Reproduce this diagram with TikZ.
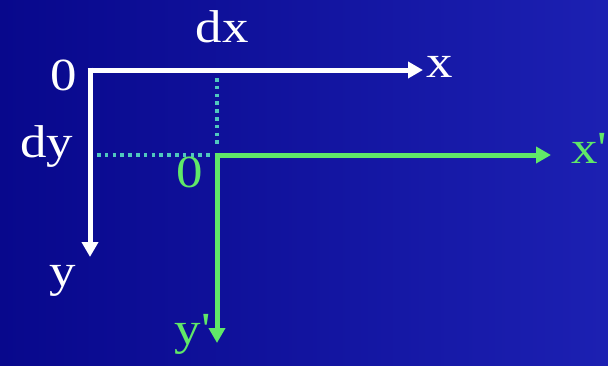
\documentclass[tikz,border=0pt]{standalone}
\usepackage{fontspec}
\setmainfont[FakeStretch=1.15]{Liberation Serif}
\usetikzlibrary{arrows.meta}
\definecolor{bgdark}{RGB}{8,8,140}
\definecolor{bglight}{RGB}{28,32,178}
\definecolor{axgreen}{RGB}{96,232,104}
\definecolor{dotcol}{RGB}{80,200,190}
\tikzset{
  axis/.style={line width=5pt, -{Triangle[length=15pt,width=16pt]}},
  waxis/.style={axis, white},
  gaxis/.style={axis, axgreen},
  dotline/.style={dotcol, line width=3.6pt, dash pattern=on 3.6pt off 4.2pt},
  lab/.style={anchor=base, inner sep=0pt, font=\fontsize{46}{50}\selectfont},
  wlab/.style={lab, text=white},
  glab/.style={lab, text=axgreen}
}
\begin{document}
\begin{tikzpicture}[x=1pt,y=-1pt]
\useasboundingbox (0,0) rectangle (608,365);
\clip (0,0) rectangle (608,365);
\shade[shading angle=-70, left color=bgdark, right color=bglight] (0,0) rectangle (608,365);
% coordinates
\coordinate (O) at (90,70);
\coordinate (X) at (423,70);
\coordinate (Y) at (90,257);
\coordinate (O2) at (217,155);
\coordinate (X2) at (551,155);
\coordinate (Y2) at (217,343);
\coordinate (dxa) at (217,78);
\coordinate (dxb) at (217,148);
\coordinate (dya) at (97,155);
\coordinate (dyb) at (210,155);
% dotted guides
\draw[dotline] (dxa) -- (dxb);
\draw[dotline] (dya) -- (dyb);
% axes
\draw[waxis] ([xshift=-2.5pt]O) -- (X);
\draw[waxis] ([yshift=2.5pt]O) -- (Y);
\draw[gaxis] ([xshift=-2.5pt]O2) -- (X2);
\draw[gaxis] ([yshift=2.5pt]O2) -- (Y2);
% labels
\node[wlab] (l0) at (64,90) {0};
\node[wlab] (ldx) at (222,42) {dx};
\node[wlab] (ldy) at (47,157) {dy};
\node[wlab] (lx) at (440,77) {x};
\node[wlab] (ly) at (63,286) {y};
\node[glab] (l02) at (190,187) {0};
\node[glab, anchor=base west] (lx2) at (571,163) {x\textquotesingle};
\node[glab] (ly2) at (192,344) {y\textquotesingle};
\end{tikzpicture}
\end{document}
